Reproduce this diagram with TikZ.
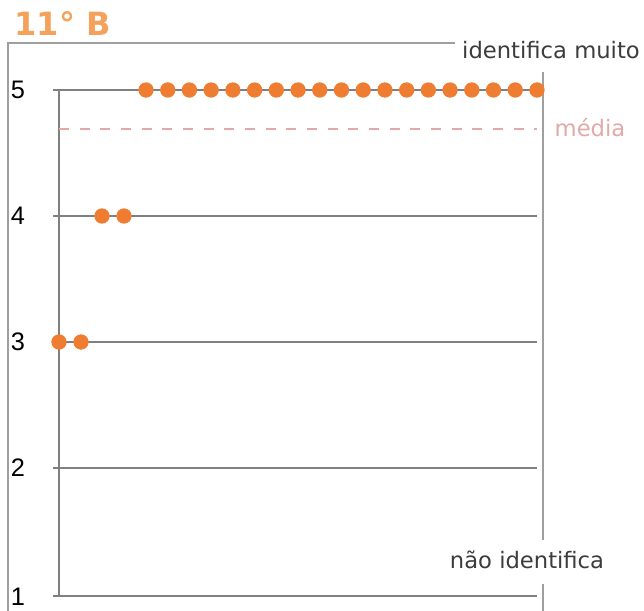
\documentclass[tikz,border=0pt]{standalone}
\usepackage{fontspec}
\setmainfont{DejaVu Sans}
\newfontfamily\digitfont{Liberation Sans}
\definecolor{dotorange}{HTML}{EE7D31}
\definecolor{titleorange}{HTML}{F4A15C}
\definecolor{meanpink}{HTML}{E2A9A9}
\definecolor{textgray}{HTML}{3C3C3C}
\tikzset{
  frameline/.style={draw=gray!75, line width=0.8pt},
  levelline/.style={draw=gray, line width=1.4pt},
  answer/.style={circle, fill=dotorange, inner sep=0pt, minimum size=11.5pt},
  levellabel/.style={font=\digitfont\fontsize{19}{21}\selectfont, text=black},
  endlabel/.style={font=\fontsize{17}{20}\selectfont, text=textgray}
}
\begin{document}
\begin{tikzpicture}[x=0.75pt, y=-0.75pt]
        \useasboundingbox (0,0) rectangle (644,611);
        \node[font=\bfseries\fontsize{24}{27}\selectfont, text=titleorange, anchor=west] (title) at (10, 24) {11° B};

        % outer frame
        \coordinate (ftl) at (8, 43); \coordinate (fbl) at (8, 611); \coordinate (ftr) at (455, 43);
        \draw[frameline] (fbl) -- (ftl) -- (ftr);
        \coordinate (rtop) at (543, 72); \coordinate (rgap1) at (543, 540); \coordinate (rgap2) at (543, 584); \coordinate (rbot) at (543, 611);
        \draw[frameline] (rtop) -- (rgap1); \draw[frameline] (rgap2) -- (rbot);
        \node[endlabel] (muito) at (551, 50) {identifica muito};
        \node[endlabel] (nao) at (527, 560) {não identifica};

        % levels
        \node[levellabel] (l5) at (18, 90) {5}; \node[levellabel] (l4) at (18, 216) {4}; \node[levellabel] (l3) at (18, 342) {3};
        \node[levellabel] (l2) at (18, 468) {2}; \node[levellabel] (l1) at (18, 597) {1};
        \coordinate (atop) at (59, 90); \coordinate (abot) at (59, 596);
        \draw[levelline] (atop) -- (abot);
        \foreach \lv/\y in {5/90, 4/216, 3/342, 2/468, 1/596} {
            \coordinate (s\lv) at (53, \y); \coordinate (e\lv) at (537, \y);
            \draw[levelline] (s\lv) -- (e\lv);
        }

        % media
        \coordinate (ms) at (59, 129); \coordinate (me) at (537, 129);
        \draw[meanpink, line width=1.2pt, dash pattern=on 7.5pt off 8pt] (ms) -- (me);
        \node[endlabel, text=meanpink] (media) at (590, 128) {média};

        % respostas
        \foreach \i in {0,...,18} \node[answer] (d5-\i) at (146+21.72*\i, 90) {};
        \node[answer] (d4-0) at (102, 216) {}; \node[answer] (d4-1) at (124, 216) {};
        \node[answer] (d3-0) at (59, 342) {}; \node[answer] (d3-1) at (81, 342) {};
    \end{tikzpicture}
\end{document}
